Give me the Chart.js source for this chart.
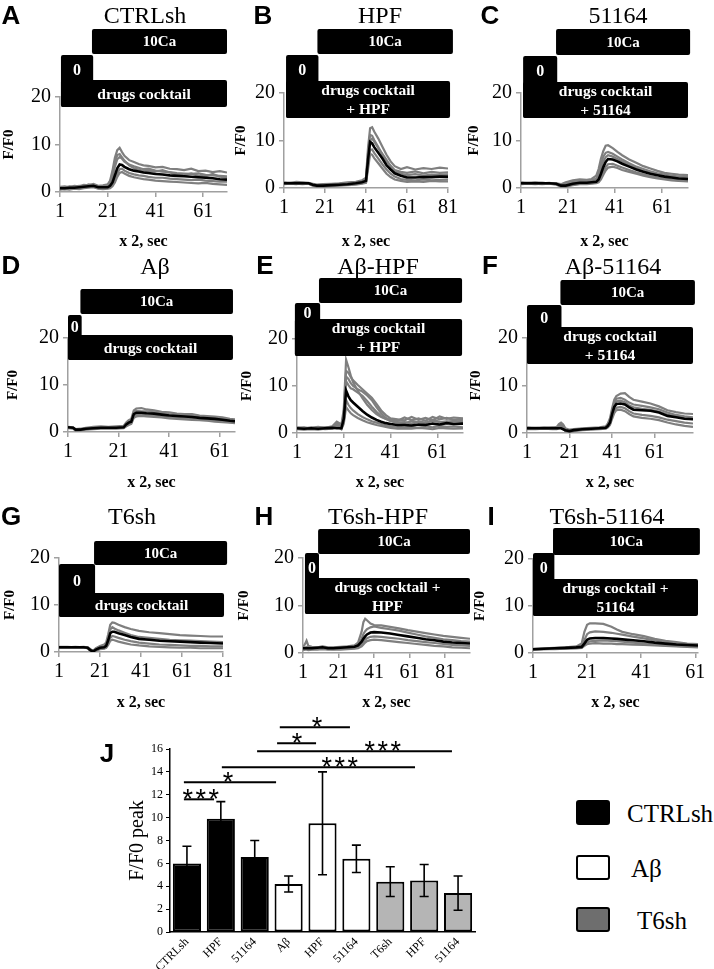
<!DOCTYPE html>
<html><head><meta charset="utf-8">
<script src="https://cdn.jsdelivr.net/npm/chart.js@4.4.1/dist/chart.umd.min.js"></script>
<style>
html,body{margin:0;padding:0;background:#fff;}
#fig{position:relative;width:714px;height:969px;overflow:hidden;background:#fff;}
.t{position:absolute;transform:translate(-50%,-50%);white-space:nowrap;line-height:1;color:#000;}
.title{font-family:'Liberation Serif','Times New Roman',serif;font-size:24px;}
.letter{font-family:'Liberation Sans',Arial,sans-serif;font-weight:bold;font-size:26px;}
.lg{position:absolute;font-family:'Liberation Serif','Times New Roman',serif;font-size:25px;line-height:1;transform:translateY(-50%);white-space:nowrap;}
.sw{position:absolute;box-sizing:border-box;border:2px solid #000;border-radius:3px;}
canvas{position:absolute;}
</style></head><body><div id="fig"></div>
<script>
// ---------- DATA ----------
// Panel A  CTRLsh
const xA = [1,3,5,7,9,11,13,15,17,19,21,22,23,24,25,26,27,28,30,32,34,36,38,41,44,47,50,53,56,59,62,65,68,71];
const mA = [0.8,0.8,0.9,0.9,1.0,1.1,1.2,1.3,1.0,1.0,1.0,1.3,2.0,3.5,5.0,5.8,5.7,5.3,4.8,4.5,4.3,4.1,4.0,3.8,3.7,3.5,3.4,3.3,3.2,3.1,3.0,2.9,2.7,2.6];
const gA1 = [1.1,1.2,1.0,1.3,1.2,1.5,1.4,1.7,1.3,1.4,1.6,2.4,4.5,7.2,8.8,9.3,8.4,7.6,6.7,6.3,5.9,5.6,5.5,5.2,5.3,4.9,4.8,4.6,4.9,4.4,4.5,4.2,4.4,4.1];
const gA2 = [0.9,1.0,1.1,1.0,1.2,1.3,1.3,1.5,1.2,1.1,1.3,1.8,3.1,5.3,6.9,7.4,7.0,6.4,5.8,5.4,5.1,4.8,4.9,4.5,4.3,4.2,4.0,3.9,3.8,3.9,3.6,3.5,3.4,3.3];
const gA3 = [0.7,0.6,0.8,0.7,0.9,0.9,1.1,1.1,0.8,0.9,0.8,1.0,1.5,2.6,3.9,4.8,4.9,4.5,4.0,3.7,3.5,3.4,3.2,3.0,3.0,2.8,2.7,2.6,2.5,2.6,2.4,2.3,2.2,2.2];
const gA4 = [0.5,0.6,0.5,0.7,0.6,0.8,0.9,1.0,0.7,0.6,0.7,0.8,1.2,2.0,3.2,4.0,4.2,3.9,3.4,3.1,2.9,2.7,2.6,2.4,2.3,2.2,2.1,2.0,1.9,1.8,1.9,1.7,1.6,1.5];
const gA5 = [1.0,0.9,1.2,1.1,1.3,1.2,1.6,1.4,1.1,1.2,1.4,2.1,3.8,6.1,7.8,8.0,7.3,6.6,5.6,5.0,4.7,4.4,4.5,4.3,4.6,4.1,3.7,3.5,3.9,3.4,3.3,3.8,3.2,3.0];
// Panel B  HPF
const xB = [1,4,7,10,13,15,17,20,24,28,32,36,39,41,42,43,44,45,47,49,51,53,55,58,61,65,69,73,77,81];
const mB = [1.0,1.0,1.0,1.0,1.0,0.7,0.5,0.5,0.6,0.7,0.8,1.0,1.2,1.5,6.0,9.7,9.4,8.6,7.4,6.2,4.8,3.9,3.1,2.6,2.2,2.2,2.3,2.3,2.4,2.4];
const gB1 = [1.2,1.1,1.3,1.2,1.1,0.9,0.7,0.8,0.9,1.0,1.2,1.3,1.6,2.2,8.5,12.6,12.8,11.9,10.4,8.7,7.0,5.6,4.6,4.0,4.4,3.9,4.2,4.0,4.3,4.1];
const gB2 = [1.1,1.0,1.1,0.9,1.0,0.8,0.6,0.7,0.7,0.9,1.0,1.1,1.4,1.9,7.4,11.2,11.0,10.1,8.6,7.0,5.6,4.7,3.8,3.4,3.2,3.5,3.1,3.4,3.2,3.3];
const gB3 = [0.9,0.9,0.8,1.0,0.9,0.6,0.4,0.4,0.5,0.6,0.7,0.9,1.0,1.2,4.8,8.0,8.1,7.4,6.2,5.0,3.9,3.0,2.4,1.9,1.7,1.6,1.8,1.6,1.7,1.8];
const gB4 = [0.8,0.9,0.9,0.8,0.9,0.5,0.3,0.3,0.4,0.5,0.6,0.7,0.9,1.1,4.0,7.2,7.0,6.3,5.2,4.1,3.0,2.3,1.8,1.5,1.3,1.4,1.3,1.5,1.4,1.4];
const gB5 = [1.0,1.1,1.0,1.1,1.0,0.7,0.5,0.6,0.6,0.8,0.9,1.0,1.3,1.7,6.5,10.0,10.4,9.8,8.4,7.2,5.9,4.6,3.5,3.0,2.7,2.9,2.6,2.8,2.7,2.9];
// Panel C  51164
const xC = [1,4,7,10,13,16,18,20,23,26,29,31,33,34,35,36,37,38,40,42,44,47,50,53,56,59,62,65,68,72];
const mC = [1.0,1.0,1.0,1.0,1.0,0.9,0.5,0.5,0.9,1.1,1.1,1.2,1.3,1.8,3.0,4.4,5.5,6.1,6.0,5.6,5.1,4.5,3.9,3.4,3.0,2.7,2.4,2.2,2.0,1.9];
const gC1 = [1.2,1.1,1.2,1.1,1.0,1.0,0.8,1.2,1.6,1.8,1.7,1.9,2.6,4.0,6.2,7.8,8.9,9.0,8.4,7.6,6.9,6.0,5.3,4.6,4.1,3.6,3.2,3.0,2.8,2.7];
const gC2 = [1.1,1.0,1.1,1.0,1.1,0.9,0.7,0.9,1.3,1.5,1.5,1.6,2.0,3.0,5.0,6.6,7.4,7.6,7.2,6.6,6.0,5.2,4.5,4.0,3.5,3.1,2.8,2.6,2.4,2.4];
const gC3 = [0.9,0.9,0.8,0.9,0.9,0.8,0.4,0.4,0.7,0.9,0.9,1.0,1.1,1.4,2.2,3.4,4.4,5.0,5.1,4.7,4.3,3.8,3.3,2.9,2.5,2.2,2.0,1.8,1.6,1.5];
const gC4 = [0.8,0.9,0.9,0.8,0.9,0.7,0.3,0.3,0.6,0.8,0.8,0.9,1.0,1.2,1.8,2.8,3.7,4.3,4.5,4.2,3.8,3.4,3.0,2.6,2.3,2.0,1.8,1.6,1.5,1.4];
const gC5 = [1.0,1.1,1.0,1.1,1.0,0.9,0.6,0.8,1.1,1.3,1.4,1.5,1.7,2.5,4.1,5.6,6.5,6.9,6.6,6.1,5.6,4.9,4.2,3.6,3.2,2.9,2.6,2.4,2.2,2.1];
// Panel D  Aβ
const xD = [1,3,4,6,8,11,14,17,20,23,24,25,26,27,28,30,32,35,38,41,44,47,50,53,56,59,62,65,67];
const mD = [1.0,0.9,0.5,0.5,0.7,0.8,0.9,0.9,0.9,1.0,1.6,2.0,2.2,3.8,4.1,4.1,4.0,3.9,3.7,3.5,3.4,3.3,3.2,3.0,2.9,2.8,2.6,2.4,2.3];
const gD1 = [1.1,1.0,0.6,0.7,0.9,1.1,1.2,1.1,1.2,1.3,2.0,2.5,2.8,4.6,5.0,5.1,4.8,4.6,4.3,4.2,3.9,3.8,3.8,3.5,3.4,3.3,3.1,2.8,2.7];
const gD2 = [0.9,0.8,0.4,0.4,0.6,0.7,0.8,0.8,0.8,0.9,1.3,1.7,1.9,3.3,3.6,3.7,3.6,3.5,3.3,3.1,3.0,2.9,2.8,2.6,2.5,2.4,2.3,2.1,2.0];
const gD3 = [1.0,0.9,0.5,0.6,0.8,0.9,1.0,1.0,1.0,1.1,1.8,2.3,2.5,4.2,4.5,4.4,4.4,4.2,4.0,3.8,3.7,3.5,3.5,3.3,3.2,3.0,2.9,2.6,2.5];
const gD4 = [0.8,0.7,0.3,0.4,0.5,0.6,0.7,0.7,0.7,0.8,1.2,1.5,1.7,3.0,3.3,3.4,3.3,3.2,3.1,2.9,2.8,2.7,2.6,2.5,2.4,2.2,2.1,2.0,1.9];
// Panel E  Aβ-HPF
const xE = [1,4,7,10,13,16,18,20,21,22,23,24,25,27,29,31,33,35,37,39,41,44,47,50,53,56,59,62,65,68,72];
const mE = [1.0,0.9,1.0,0.9,1.0,1.1,1.0,1.0,3.0,9.0,7.8,7.0,6.5,5.6,4.7,3.9,3.3,2.8,2.4,2.1,1.9,1.7,1.7,1.6,1.8,1.7,2.0,1.8,2.1,1.9,2.0];
const gE1 = [1.2,1.0,1.1,1.3,1.1,1.4,2.4,1.8,5.0,15.6,14.0,12.2,10.8,9.0,7.4,6.0,4.9,4.0,3.4,3.0,2.8,2.6,3.3,2.7,3.1,2.6,3.4,2.9,3.2,2.8,3.0];
const gE2 = [1.1,1.2,0.9,1.1,1.2,1.3,1.9,1.5,4.2,13.2,12.8,11.9,11.2,10.2,9.3,8.4,7.5,6.2,4.8,3.8,3.1,2.9,2.7,3.4,2.8,3.2,2.7,3.5,3.0,3.3,3.1];
const gE3 = [0.9,1.0,1.2,0.9,1.0,1.2,2.0,1.3,3.5,11.0,10.2,9.5,9.3,8.6,7.9,6.8,5.6,4.5,3.6,3.0,2.5,2.2,2.3,2.0,2.4,2.2,2.6,2.3,2.5,2.4,2.6];
const gE4 = [0.8,0.8,0.9,1.0,0.8,0.9,1.2,1.0,2.5,7.0,6.0,5.3,4.8,4.0,3.4,2.9,2.5,2.2,1.9,1.6,1.4,1.3,1.2,1.3,1.1,1.4,1.2,1.5,1.3,1.4,1.2];
const gE5 = [0.9,0.7,0.8,0.7,0.9,1.0,1.5,0.8,2.0,5.5,4.8,4.2,3.8,3.2,2.7,2.3,2.0,1.7,1.5,1.3,1.1,0.9,1.0,0.9,1.1,1.0,0.8,1.1,1.0,0.9,1.0];
const gE6 = [1.0,1.1,1.0,1.2,1.0,1.1,1.6,1.2,3.8,12.0,11.5,10.6,10.0,9.3,8.8,8.0,7.0,5.5,4.2,3.2,2.6,2.3,2.1,2.5,2.3,2.1,2.8,2.4,2.2,2.6,2.3];
// Panel F  Aβ-51164
const xF = [1,5,9,13,15,16,17,18,19,21,23,27,31,35,38,39,40,41,42,43,45,47,49,51,55,59,63,67,71,75,79];
const mF = [1.0,1.0,1.0,1.0,1.0,1.0,1.0,0.8,0.6,0.4,0.6,0.8,0.9,1.0,1.1,1.5,2.2,4.0,5.5,6.1,6.2,6.0,5.4,4.9,4.8,4.7,4.3,3.6,3.3,3.0,2.9];
const gF1 = [1.2,1.1,1.2,1.1,1.3,1.9,2.2,1.8,1.0,0.7,0.8,1.0,1.1,1.2,1.4,2.0,3.1,5.2,7.0,7.8,8.3,8.4,7.6,7.0,6.6,6.2,5.6,4.8,4.4,4.1,4.0];
const gF2 = [1.1,1.0,1.1,1.2,1.1,1.6,1.8,1.5,0.8,0.5,0.7,0.9,1.0,1.1,1.3,1.8,2.7,4.6,6.4,7.2,7.4,7.0,6.4,6.0,5.7,5.4,5.0,4.3,3.8,3.5,3.3];
const gF3 = [0.9,0.9,0.9,0.9,0.9,1.2,1.4,1.2,0.5,0.3,0.5,0.7,0.8,0.9,1.0,1.3,1.9,3.5,4.8,5.3,5.5,5.2,4.6,4.1,3.8,3.6,3.3,2.8,2.5,2.2,2.0];
const gF4 = [0.8,0.8,0.9,0.8,0.8,1.0,1.1,0.9,0.4,0.2,0.4,0.6,0.7,0.8,0.9,1.2,1.7,3.0,4.2,4.8,4.9,4.6,4.0,3.5,3.2,3.0,2.7,2.2,1.8,1.5,1.3];
const gF5 = [1.0,1.1,1.0,1.1,1.0,1.5,1.9,1.6,0.7,0.5,0.6,0.8,0.9,1.0,1.2,1.7,2.5,4.3,6.0,6.7,6.8,6.5,5.8,5.4,5.1,4.9,4.5,3.9,3.5,3.1,2.9];
// Panel G  T6sh
const xG = [1,5,9,13,15,16,17,18,19,21,23,24,25,26,27,28,30,33,36,40,45,50,55,60,65,70,75,81];
const mG = [1.0,1.0,1.0,1.0,0.9,0.5,0.2,0.2,0.5,0.9,1.0,1.3,2.5,4.0,4.3,4.3,4.0,3.6,3.2,2.8,2.6,2.4,2.3,2.2,2.1,2.0,1.9,1.8];
const gG1 = [1.1,1.1,1.0,1.1,1.0,0.7,0.4,0.4,0.8,1.3,1.6,2.0,3.8,5.8,6.3,6.2,5.8,5.3,4.9,4.5,4.2,4.0,3.8,3.6,3.5,3.4,3.3,3.3];
const gG2 = [1.0,1.0,1.1,1.0,0.9,0.6,0.3,0.3,0.7,1.1,1.3,1.6,3.0,4.8,5.3,5.0,4.6,4.1,3.6,3.2,3.0,2.8,2.6,2.5,2.4,2.3,2.2,2.1];
const gG3 = [0.9,0.9,0.9,0.9,0.8,0.4,0.1,0.1,0.4,0.7,0.8,1.0,1.8,3.0,3.4,3.3,3.0,2.6,2.3,2.0,1.8,1.6,1.5,1.4,1.3,1.3,1.2,1.2];
const gG4 = [0.9,0.9,0.9,0.9,0.8,0.4,0.1,0.1,0.3,0.6,0.7,0.9,1.5,2.4,2.6,2.5,2.2,1.9,1.6,1.4,1.2,1.1,1.0,0.9,0.9,0.8,0.8,0.8];
// Panel H  T6sh-HPF
const xH = [1,2,3,4,6,9,12,15,18,22,26,30,32,34,35,36,37,39,41,45,50,55,60,65,70,75,80,85,90,95];
const mH = [1.0,1.0,1.0,1.0,1.0,1.1,1.2,1.0,1.0,1.1,1.2,1.3,1.6,2.4,3.0,3.5,3.9,4.3,4.4,4.3,4.1,3.8,3.5,3.2,2.9,2.7,2.4,2.2,2.1,2.0];
const gH1 = [1.2,1.8,2.6,1.5,1.3,1.2,1.4,1.2,1.2,1.3,1.4,1.6,2.2,4.5,6.5,7.2,6.9,6.2,5.9,5.8,5.5,5.2,4.8,4.5,4.2,3.9,3.6,3.4,3.2,3.0];
const gH2 = [1.1,1.1,1.3,1.2,1.1,1.2,1.3,1.1,1.1,1.2,1.3,1.4,1.8,3.0,4.0,4.6,5.0,5.4,5.6,5.3,5.0,4.7,4.3,3.9,3.5,3.2,2.9,2.7,2.5,2.4];
const gH3 = [0.8,0.8,0.9,0.8,0.8,0.9,1.0,0.9,0.8,0.9,1.0,1.0,1.2,1.8,2.3,2.8,3.1,3.4,3.5,3.4,3.2,3.0,2.7,2.5,2.3,2.1,1.9,1.7,1.6,1.5];
const gH4 = [0.6,0.7,0.7,0.6,0.7,0.7,0.8,0.7,0.7,0.7,0.8,0.9,1.0,1.4,1.8,2.2,2.5,2.7,2.8,2.7,2.5,2.3,2.1,1.9,1.7,1.5,1.4,1.2,1.1,1.0];
// Panel I  T6sh-51164
const xI = [1,5,9,13,17,19,20,21,22,24,27,30,32,34,38,42,46,50,54,58,62];
const mI = [0.8,0.9,1.0,1.1,1.2,1.3,2.0,2.8,3.1,3.2,3.2,3.1,3.0,2.9,2.7,2.5,2.2,2.0,1.8,1.7,1.6];
const gI1 = [0.9,1.0,1.1,1.2,1.4,2.0,4.5,6.0,6.3,6.3,6.2,5.6,5.0,4.5,4.0,3.6,3.0,2.6,2.3,2.0,1.9];
const gI2 = [0.8,0.9,1.0,1.1,1.3,1.5,2.8,4.0,4.4,4.6,4.5,4.3,4.1,3.9,3.5,3.1,2.7,2.4,2.1,1.9,1.8];
const gI3 = [0.7,0.8,0.9,1.0,1.1,1.2,1.7,2.2,2.5,2.6,2.7,2.6,2.5,2.4,2.2,2.0,1.8,1.6,1.5,1.4,1.3];
const gI4 = [0.7,0.8,0.8,0.9,1.0,1.1,1.5,1.9,2.0,2.1,2.0,2.0,1.9,1.9,1.8,1.7,1.6,1.5,1.4,1.3,1.2];

// Solution protocol timeline per panel, in x units: [0Ca start, 10Ca start, 10Ca end, drugs end]
const protoA = [1.4, 14.4, 71, 71];
const protoB = [2.0, 17.3, 83.4, 82];
const protoC = [1.9, 15.9, 72.9, 72];
const protoD = [1.0, 5.9, 66.2, 66.2];
const protoE = [0.1, 10.4, 71.6, 71.6];
const protoF = [1.0, 16.7, 79.9, 79];
const protoG = [1.0, 18.1, 83, 81.5];
const protoH = [2.1, 9.5, 95, 95];
const protoI = [1.0, 8.4, 62.7, 62];

const ticks4 = [1, 21, 41, 61];
const ticks5 = [1, 21, 41, 61, 81];
const yTicksTrace = [0, 10, 20];

// Panel J
const jCats = ['CTRLsh','HPF','51164','Aβ','HPF','51164','T6sh','HPF','51164'];
const jMeans = [6.0, 9.9, 6.55, 4.2, 9.5, 6.4, 4.4, 4.5, 3.4];
const jErr = [1.5, 1.5, 1.45, 0.7, 4.5, 1.2, 1.3, 1.4, 1.5];
const jGroup = [0,0,0,1,1,1,2,2,2];
const groupNames = ['CTRLsh','Aβ','T6sh'];
const sigFrom = [-0.09, -0.09, 1.03, 2.07, 2.66, 2.74];
const sigTo = [0.80, 2.63, 6.73, 7.82, 3.81, 4.81];
const sigLevel = [11.6, 13.1, 14.4, 15.8, 16.5, 17.9];
const sigStarAt = [0.41, 1.21, 4.51, 5.78, 3.25, 3.84];
const sigStars = [3, 1, 3, 3, 1, 1];

// ---------- STYLES / LAYOUT ----------
const SERIF = "'Liberation Serif','Times New Roman',serif";
Chart.defaults.font.family = SERIF;
Chart.defaults.color = '#000';
const GRAY = '#7f7f7f';
const AXIS = '#a0a0a0';
const groupFill = ['#000000','#ffffff','#b5b5b5'];
const legendFill = ['#000000','#ffffff','#6e6e6e'];

const fig = document.getElementById('fig');
function addText(txt, x, y, cls) {
  const d = document.createElement('div');
  d.className = 't ' + cls; d.textContent = txt;
  d.style.left = x + 'px'; d.style.top = y + 'px';
  fig.appendChild(d);
}

const panels = [
 {letter:'A', title:'CTRLsh', lp:[11,15], tp:[145,15], x:xA, mean:mA, gray:[gA1,gA2,gA3,gA4,gA5], xMax:71, xt:ticks4, area:{l:60,r:227,t:97,b:192}, yTX:9, xTY:242, proto:protoA, rows:{ca:[29,54],zero:[55,107],drugs:[80,107]}, dtext:['drugs cocktail']},
 {letter:'B', title:'HPF', lp:[263,15], tp:[380,15], x:xB, mean:mB, gray:[gB1,gB2,gB3,gB4,gB5], xMax:81, xt:ticks5, area:{l:284,r:448,t:93,b:188}, yTX:241, xTY:242, proto:protoB, rows:{ca:[29,54],zero:[55,118],drugs:[81,118]}, dtext:['drugs cocktail','+ HPF']},
 {letter:'C', title:'51164', lp:[490,15], tp:[618,15], x:xC, mean:mC, gray:[gC1,gC2,gC3,gC4,gC5], xMax:72, xt:ticks4, area:{l:521,r:688,t:93,b:188}, yTX:474, xTY:242, proto:protoC, rows:{ca:[29,55],zero:[56,118],drugs:[82,118]}, dtext:['drugs cocktail','+ 51164']},
 {letter:'D', title:'Aβ', lp:[11,265], tp:[155,266], x:xD, mean:mD, gray:[gD1,gD2,gD3,gD4], xMax:67, xt:ticks4, area:{l:68,r:235,t:338,b:432}, yTX:13, xTY:483, proto:protoD, rows:{ca:[289,314],zero:[315,360],drugs:[335,360]}, dtext:['drugs cocktail']},
 {letter:'E', title:'Aβ-HPF', lp:[265,265], tp:[378,266], x:xE, mean:mE, gray:[gE1,gE2,gE3,gE4,gE5,gE6], xMax:72, xt:ticks4, area:{l:297,r:463,t:339,b:433}, yTX:247, xTY:483, proto:protoE, rows:{ca:[278,303],zero:[303,356],drugs:[319,356]}, dtext:['drugs cocktail','+ HPF']},
 {letter:'F', title:'Aβ-51164', lp:[490,265], tp:[613,266], x:xF, mean:mF, gray:[gF1,gF2,gF3,gF4,gF5], xMax:79, xt:ticks4, area:{l:527,r:693,t:338,b:433}, yTX:476, xTY:483, proto:protoF, rows:{ca:[280,305],zero:[305,364],drugs:[327,364]}, dtext:['drugs cocktail','+ 51164']},
 {letter:'G', title:'T6sh', lp:[11,516], tp:[132,516], x:xG, mean:mG, gray:[gG1,gG2,gG3,gG4], xMax:81, xt:ticks5, area:{l:59,r:223,t:558,b:652}, yTX:10, xTY:703, proto:protoG, rows:{ca:[541,565],zero:[564,617],drugs:[593,617]}, dtext:['drugs cocktail']},
 {letter:'H', title:'T6sh-HPF', lp:[264,516], tp:[378,516], x:xH, mean:mH, gray:[gH1,gH2,gH3,gH4], xMax:95, xt:ticks5, area:{l:303,r:470,t:558,b:653}, yTX:244, xTY:703, proto:protoH, rows:{ca:[529,554],zero:[553,614],drugs:[578,614]}, dtext:['drugs cocktail +','HPF']},
 {letter:'I', title:'T6sh-51164', lp:[491,516], tp:[607,516], x:xI, mean:mI, gray:[gI1,gI2,gI3,gI4], xMax:62, xt:ticks4, area:{l:533,r:698,t:559,b:653}, yTX:480, xTY:703, proto:protoI, rows:{ca:[528,555],zero:[553,616],drugs:[579,616]}, dtext:['drugs cocktail +','51164']}
];

function makePanel(p) {
  const W = 70;
  const cl = p.area.l - W, ct = p.area.t - 75;
  const cr = p.area.r + 14, cb = p.xTY + 14;
  const cw = cr - cl, ch = cb - ct;
  const cv = document.createElement('canvas');
  cv.width = cw; cv.height = ch;
  cv.style.left = cl + 'px'; cv.style.top = ct + 'px';
  cv.style.width = cw + 'px'; cv.style.height = ch + 'px';
  fig.appendChild(cv);
  const yTitleSize = 15, xTitleSize = 16;
  const yPad = p.yTX - cl - yTitleSize * 1.2 / 2;
  const xPad = cb - p.xTY - xTitleSize * 1.2 / 2;
  const pts = arr => p.x.map((x, i) => ({x, y: arr[i]}));
  const datasets = [{data: pts(p.mean), borderColor: '#000', borderWidth: 2.6, pointRadius: 0, tension: 0}]
    .concat(p.gray.map(g => ({data: pts(g), borderColor: GRAY, borderWidth: 2.2, pointRadius: 0, tension: 0})));
  const boxes = {
    id: 'protoBoxes',
    afterDraw(chart) {
      const ctx = chart.ctx, xs = chart.scales.x;
      const X = v => xs.getPixelForValue(v);
      const [z0, c0, c1, d1] = p.proto;
      const R = p.rows;
      ctx.save();
      ctx.fillStyle = '#000';
      const rect = (a, b, y0, y1) => { ctx.beginPath(); ctx.roundRect(X(a), y0 - ct, X(b) - X(a), y1 - y0, 2); ctx.fill(); };
      rect(c0, c1, R.ca[0], R.ca[1]);
      rect(z0, c0 + 0.5, R.zero[0], R.zero[1]);
      rect(z0, d1, R.drugs[0], R.drugs[1]);
      ctx.fillStyle = '#fff';
      ctx.textAlign = 'center'; ctx.textBaseline = 'middle';
      ctx.font = "bold 15px " + SERIF;
      ctx.fillText('10Ca', (X(c0) + X(c1)) / 2, (R.ca[0] + R.ca[1]) / 2 - ct + 1);
      ctx.font = "bold 16px " + SERIF;
      ctx.fillText('0', (X(z0) + X(c0 + 0.5)) / 2, (R.zero[0] + R.drugs[0]) / 2 - ct + 3);
      ctx.font = "bold 15.5px " + SERIF;
      const lh = 19, cy = (R.drugs[0] + R.drugs[1]) / 2 - ct + 1;
      const y0 = cy - (p.dtext.length - 1) * lh / 2;
      p.dtext.forEach((t, i) => ctx.fillText(t, (X(z0) + X(d1)) / 2, y0 + i * lh));
      ctx.restore();
    }
  };
  new Chart(cv, {
    type: 'line',
    data: {datasets},
    options: {
      responsive: false, animation: false, devicePixelRatio: 1,
      layout: {padding: {left: 0, top: p.area.t - ct, right: cr - p.area.r, bottom: 0}},
      plugins: {legend: {display: false}, tooltip: {enabled: false}},
      scales: {
        x: {type: 'linear', min: 1, max: p.xMax,
            afterBuildTicks: s => { s.ticks = p.xt.map(v => ({value: v})); },
            afterFit: s => { s.height = ch - (p.area.b - ct); },
            grid: {display: true, drawOnChartArea: false, drawTicks: true, tickLength: 5, color: AXIS, lineWidth: 1.5},
            border: {display: true, color: AXIS, width: 1.5},
            ticks: {font: {family: SERIF, size: 20}, padding: 3, autoSkip: false, maxRotation: 0, color: '#000'},
            title: {display: true, text: 'x 2, sec', font: {family: SERIF, size: xTitleSize, weight: 'bold'}, padding: {top: 0, bottom: xPad}, color: '#000'}},
        y: {min: 0, max: 20,
            afterBuildTicks: s => { s.ticks = yTicksTrace.map(v => ({value: v})); },
            afterFit: s => { s.width = W; },
            grid: {display: true, drawOnChartArea: false, drawTicks: true, tickLength: 5, color: AXIS, lineWidth: 1.5},
            border: {display: true, color: AXIS, width: 1.5},
            ticks: {font: {family: SERIF, size: 20}, padding: 4, color: '#000'},
            title: {display: true, text: 'F/F0', font: {family: SERIF, size: yTitleSize, weight: 'bold'}, padding: {top: yPad, bottom: 0}, color: '#000'}}
      }
    },
    plugins: [boxes]
  });
  addText(p.letter, p.lp[0], p.lp[1], 'letter');
  addText(p.title, p.tp[0], p.tp[1], 'title');
}
panels.forEach(makePanel);

// ---------- Panel J ----------
(function () {
  const cl = 100, ct = 690, cw = 390, ch = 279;
  const area = {l: 170, r: 475, t: 749, b: 932};
  const cv = document.createElement('canvas');
  cv.width = cw; cv.height = ch;
  cv.style.left = cl + 'px'; cv.style.top = ct + 'px';
  cv.style.width = cw + 'px'; cv.style.height = ch + 'px';
  fig.appendChild(cv);
  const errPlugin = {
    id: 'errBars',
    afterDatasetsDraw(chart) {
      const ctx = chart.ctx, ys = chart.scales.y;
      const meta = chart.getDatasetMeta(0);
      ctx.save();
      ctx.strokeStyle = '#000'; ctx.lineWidth = 1.6;
      meta.data.forEach((bar, i) => {
        const x = bar.x, yt = ys.getPixelForValue(jMeans[i] + jErr[i]), yb = ys.getPixelForValue(jMeans[i] - jErr[i]);
        ctx.beginPath();
        ctx.moveTo(x, yt); ctx.lineTo(x, yb);
        ctx.moveTo(x - 4.5, yt); ctx.lineTo(x + 4.5, yt);
        ctx.moveTo(x - 4.5, yb); ctx.lineTo(x + 4.5, yb);
        ctx.stroke();
      });
      ctx.restore();
    }
  };
  const sigPlugin = {
    id: 'sigBars',
    afterDraw(chart) {
      const ctx = chart.ctx, xs = chart.scales.x, ys = chart.scales.y;
      ctx.save();
      ctx.strokeStyle = '#000'; ctx.lineWidth = 2; ctx.fillStyle = '#000';
      ctx.font = "27px 'Liberation Sans', Arial, sans-serif";
      ctx.textAlign = 'center'; ctx.textBaseline = 'alphabetic';
      sigLevel.forEach((lv, i) => {
        const y = ys.getPixelForValue(lv);
        ctx.beginPath();
        ctx.moveTo(xs.getPixelForValue(sigFrom[i]), y);
        ctx.lineTo(xs.getPixelForValue(sigTo[i]), y);
        ctx.stroke();
        const cx = xs.getPixelForValue(sigStarAt[i]);
        const n = sigStars[i];
        for (let k = 0; k < n; k++) ctx.fillText('*', cx + (k - (n - 1) / 2) * 13, y + 9);
      });
      ctx.restore();
    }
  };
  new Chart(cv, {
    type: 'bar',
    data: {labels: jCats, datasets: [{data: jMeans, backgroundColor: jGroup.map(g => groupFill[g]), borderColor: '#000', borderWidth: 2, borderSkipped: false, barPercentage: 0.83, categoryPercentage: 1.0}]},
    options: {
      responsive: false, animation: false, devicePixelRatio: 1,
      layout: {padding: {left: 0, top: area.t - ct, right: cl + cw - area.r, bottom: 0}},
      plugins: {legend: {display: false}, tooltip: {enabled: false}},
      scales: {
        x: {afterFit: s => { s.height = ch - (area.b - ct); },
            grid: {display: true, drawOnChartArea: false, drawTicks: false},
            border: {display: true, color: '#000', width: 1.5},
            ticks: {font: {family: SERIF, size: 12}, maxRotation: 45, minRotation: 45, autoSkip: false, padding: 3, color: '#000'}},
        y: {min: 0, max: 16, afterFit: s => { s.width = area.l - cl; },
            ticks: {stepSize: 2, font: {family: SERIF, size: 12}, padding: 3, color: '#000'},
            grid: {display: true, drawOnChartArea: false, drawTicks: true, tickLength: 4, color: '#000'},
            border: {display: true, color: '#000', width: 1.5},
            title: {display: true, text: 'F/F0 peak', font: {family: SERIF, size: 20}, padding: {top: 26, bottom: 0}, color: '#000'}}
      }
    },
    plugins: [errPlugin, sigPlugin]
  });
  addText('J', 107, 753, 'letter');
  // legend
  const legTop = [800, 855, 907], legTextX = [627, 631, 637];
  groupNames.forEach((n, i) => {
    const s = document.createElement('div');
    s.className = 'sw';
    s.style.cssText += `left:576px;top:${legTop[i]}px;width:34px;height:25px;background:${legendFill[i]};`;
    fig.appendChild(s);
    const t = document.createElement('div');
    t.className = 'lg'; t.textContent = n;
    t.style.left = legTextX[i] + 'px'; t.style.top = (legTop[i] + 13) + 'px';
    fig.appendChild(t);
  });
})();
</script></body></html>
